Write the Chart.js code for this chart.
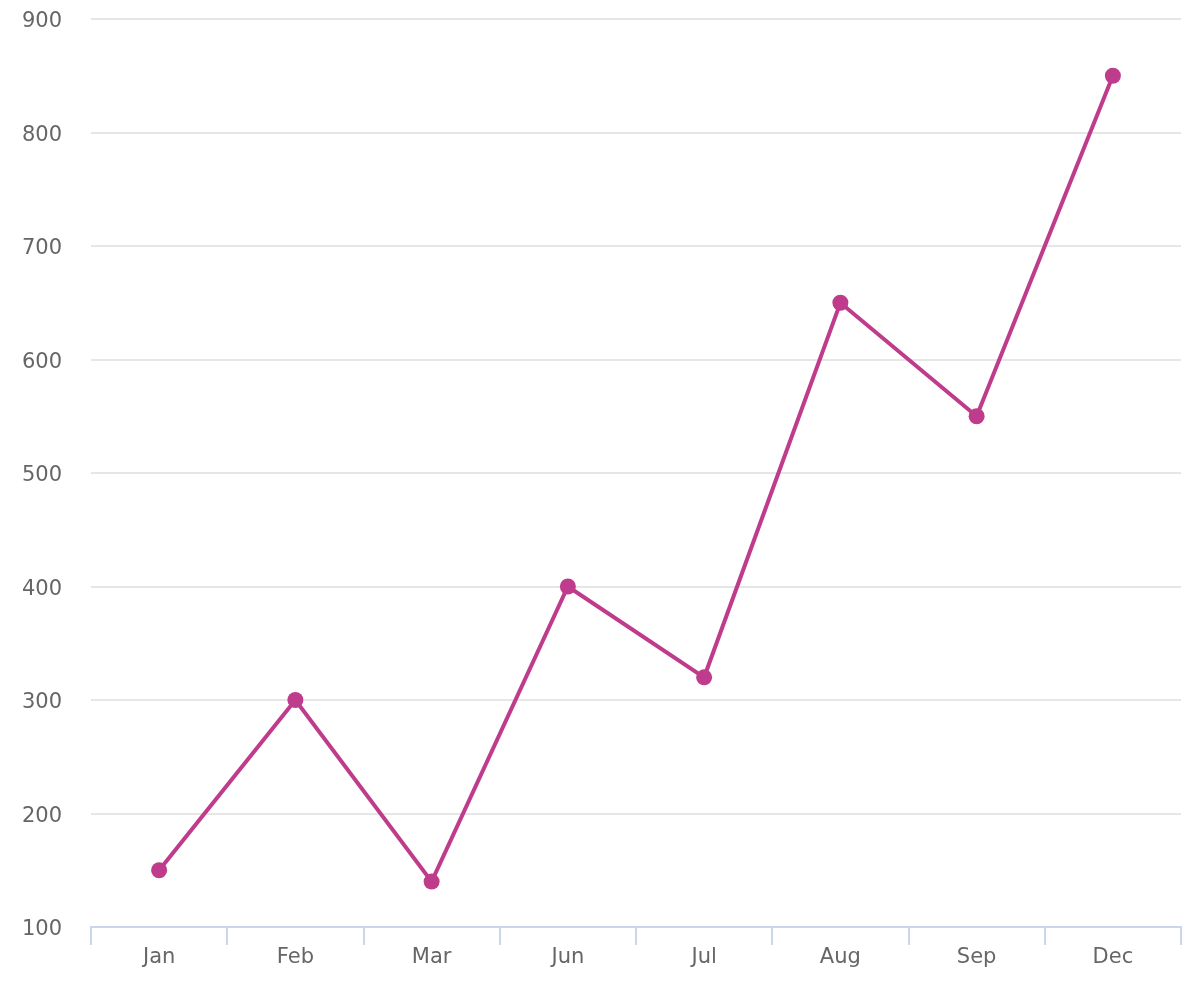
<!DOCTYPE html>
<html>
<head>
<meta charset="utf-8">
<script src="https://cdn.jsdelivr.net/npm/chart.js@4"></script>
<style>
  html, body { margin: 0; padding: 0; background: #fff; }
  #wrap { width: 1200px; height: 1000px; }
</style>
</head>
<body>
<div id="wrap"><canvas id="myChart"></canvas></div>
<script>
const months = ["Jan", "Feb", "Mar", "Jun", "Jul", "Aug", "Sep", "Dec"];
const values = [150, 300, 140, 400, 320, 650, 550, 850];
const yTicks = [100, 200, 300, 400, 500, 600, 700, 800, 900];

const lineColor = "#bf3b8c";
const labelFont = { family: "DejaVu Sans", size: 21 };

const ctx = document.getElementById("myChart").getContext("2d");

new Chart(ctx, {
  type: "line",
  data: {
    labels: months,
    datasets: [
      {
        label: "Series 1",
        data: values,
        borderColor: lineColor,
        backgroundColor: lineColor,
        borderWidth: 4,
        pointRadius: 8,
        pointHoverRadius: 8,
        pointBorderWidth: 0,
        tension: 0,
      },
    ],
  },
  options: {
    responsive: true,
    maintainAspectRatio: false,
    animation: false,
    layout: {
      padding: { top: 0, right: 19, bottom: 0, left: 0 },
    },
    plugins: {
      legend: { display: false },
      title: { display: false },
      tooltip: { enabled: false },
    },
    scales: {
      x: {
        offset: true,
        grid: {
          display: true,
          offset: true,
          drawOnChartArea: false,
          drawTicks: true,
          tickLength: 18,
          color: "#ccd6eb",
          lineWidth: 2,
        },
        border: { display: true, color: "#ccd6eb", width: 2 },
        ticks: {
          color: "#666666",
          font: labelFont,
          padding: 0,
          maxRotation: 0,
        },
        afterFit: (scale) => {
          scale.height = 73;
        },
      },
      y: {
        min: yTicks[0],
        max: yTicks[yTicks.length - 1],
        grid: {
          color: "#e6e6e6",
          lineWidth: 2,
          drawTicks: false,
        },
        border: { display: false },
        ticks: {
          stepSize: 100,
          color: "#666666",
          font: labelFont,
          padding: 29,
          labelOffset: 3,
        },
        afterFit: (scale) => {
          scale.width = 91;
          scale.paddingTop = 19;
        },
      },
    },
  },
});
</script>
</body>
</html>
